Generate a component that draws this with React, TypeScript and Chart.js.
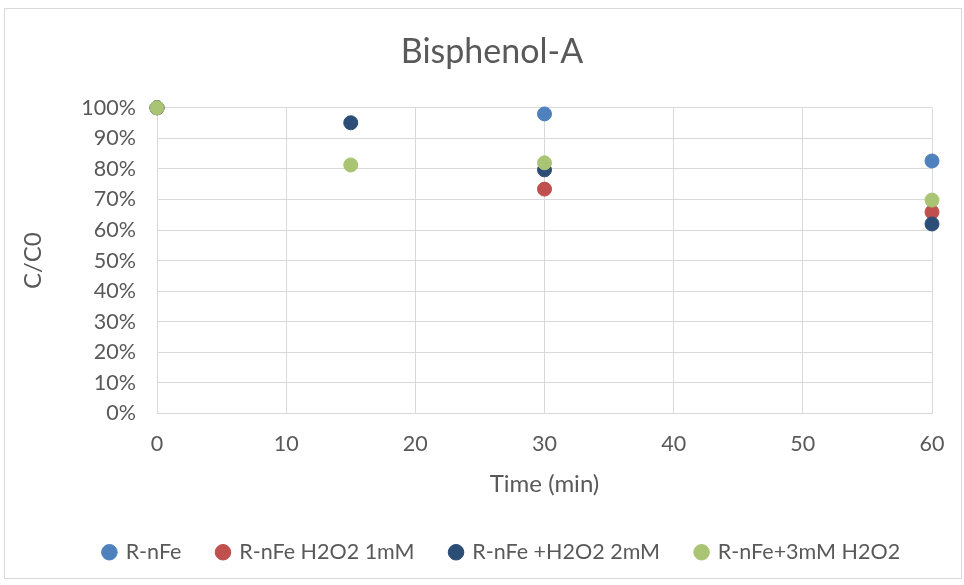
import React, { useEffect, useRef } from "react";
import { Chart, registerables } from "chart.js";

Chart.register(...registerables);

const chartTitle = "Bisphenol-A";
const xAxisTitle = "Time (min)";
const yAxisTitle = "C/C0";

const seriesNames = ["R-nFe", "R-nFe H2O2 1mM", "R-nFe +H2O2 2mM", "R-nFe+3mM H2O2"];
const seriesColors = ["#4F81BD", "#C0504D", "#2C4D75", "#A9C574"];

const rnfeTime = [0, 30, 60];
const rnfeValues = [100, 98.0, 82.6];

const h2o2OneTime = [0, 30, 60];
const h2o2OneValues = [100, 73.4, 65.9];

const h2o2TwoTime = [0, 15, 30, 60];
const h2o2TwoValues = [100, 95.1, 79.7, 62.0];

const h2o2ThreeTime = [0, 15, 30, 60];
const h2o2ThreeValues = [100, 81.3, 82.0, 69.8];

const xMin = 0;
const xMax = 60;
const xStep = 10;
const yMin = 0;
const yMax = 100;
const yStep = 10;

const FONT = "Lato";
const TEXT = "#595959";
const GRID = "#D9D9D9";

const toPoints = (xs: number[], ys: number[]) => xs.map((x, i) => ({ x, y: ys[i] }));

const frame = {
  id: "frame",
  beforeDraw(chart: any) {
    const ctx = chart.ctx;
    ctx.save();
    ctx.fillStyle = "#FFFFFF";
    ctx.fillRect(0, 0, chart.width, chart.height);
    ctx.strokeStyle = GRID;
    ctx.lineWidth = 1;
    ctx.strokeRect(4.5, 8.5, 957, 570);
    ctx.restore();
  },
};

const shiftBoxes = {
  id: "shiftBoxes",
  afterLayout(chart: any) {
    const t = chart.titleBlock;
    if (t) {
      t.left += 26;
      t.right += 26;
    }
    const l = chart.legend;
    if (l) {
      l.left += 36;
      l.right += 36;
    }
  },
};

export default function App() {
  const ref = useRef<HTMLCanvasElement | null>(null);

  useEffect(() => {
    if (!ref.current) return;
    const allX = [rnfeTime, h2o2OneTime, h2o2TwoTime, h2o2ThreeTime];
    const allY = [rnfeValues, h2o2OneValues, h2o2TwoValues, h2o2ThreeValues];
    const datasets = seriesNames.map((name, i) => ({
      label: name,
      data: toPoints(allX[i], allY[i]),
      backgroundColor: seriesColors[i],
      borderColor: seriesColors[i],
      borderWidth: 1,
      pointRadius: 7,
      pointHoverRadius: 7,
      pointStyle: "circle",
      showLine: false,
      clip: false,
      order: seriesNames.length - i,
    }));

    const chart = new Chart(ref.current, {
      type: "scatter",
      data: { datasets },
      plugins: [frame, shiftBoxes],
      options: {
        animation: false,
        responsive: false,
        maintainAspectRatio: false,
        devicePixelRatio: 1,
        layout: { padding: { left: 0, right: 32, top: 0, bottom: 12 } },
        plugins: {
          title: {
            display: true,
            text: chartTitle,
            color: TEXT,
            font: { family: FONT, size: 34, weight: "normal" },
            padding: { top: 32, bottom: 35 },
          },
          legend: {
            display: true,
            position: "bottom",
            labels: {
              usePointStyle: true,
              pointStyle: "circle",
              boxWidth: 11,
              boxHeight: 11,
              padding: 36,
              color: TEXT,
              font: { family: FONT, size: 21.5 },
              sort: (a: any, b: any) => a.datasetIndex - b.datasetIndex,
            },
          },
          tooltip: { enabled: false },
        },
        scales: {
          x: {
            type: "linear",
            min: xMin,
            max: xMax,
            ticks: {
              stepSize: xStep,
              color: TEXT,
              font: { family: FONT, size: 21.5 },
              padding: 18,
            },
            grid: { color: GRID, lineWidth: 1, drawTicks: false },
            border: { color: GRID, width: 1 },
            title: {
              display: true,
              text: xAxisTitle,
              color: TEXT,
              font: { family: FONT, size: 24 },
              padding: { top: 0, bottom: 7 },
            },
            afterFit: (scale: any) => {
              scale.height = 92;
            },
          },
          y: {
            type: "linear",
            min: yMin,
            max: yMax,
            ticks: {
              stepSize: yStep,
              color: TEXT,
              font: { family: FONT, size: 21.5 },
              padding: 21,
              callback: (v: any) => v + "%",
            },
            grid: { color: GRID, lineWidth: 1, drawTicks: false },
            border: { color: GRID, width: 1 },
            title: {
              display: true,
              text: yAxisTitle,
              color: TEXT,
              font: { family: FONT, size: 24 },
              padding: { top: 19, bottom: 0 },
            },
            afterFit: (scale: any) => {
              scale.width = 157;
            },
          },
        },
      },
    } as any);

    return () => chart.destroy();
  }, []);

  return (
    <div style={{ position: "fixed", left: 0, top: 0, width: 964, height: 585, background: "#fff" }}>
      <canvas ref={ref} width={964} height={585} style={{ display: "block", width: 964, height: 585 }} />
    </div>
  );
}
